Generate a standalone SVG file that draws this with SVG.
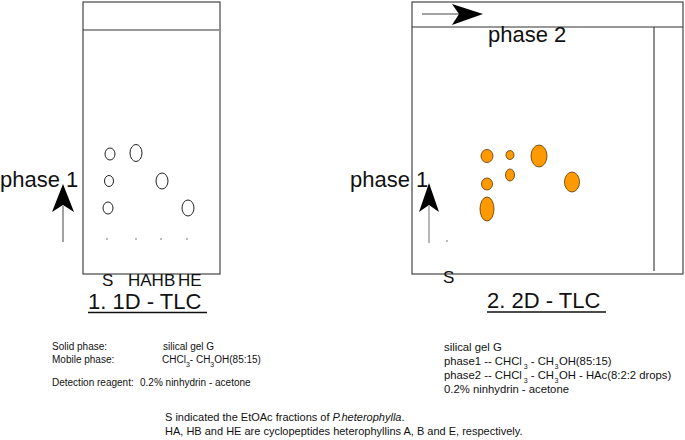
<svg xmlns="http://www.w3.org/2000/svg" width="685" height="440" viewBox="0 0 685 440">
<style>
text{font-family:"Liberation Sans",Arial,sans-serif;fill:#111}
.frame{fill:none;stroke:#333;stroke-width:1.1}
.spot{fill:#fff;stroke:#222;stroke-width:1}
.ospot{fill:#ff9900;stroke:#5a3300;stroke-width:0.8}
.big{font-size:22px}
.lab{font-size:17px}
.title{font-size:22px}
.sl{font-size:10px}
.sr{font-size:11.3px}
.sub{font-size:7px}
.foot{font-size:11px}
.dot{fill:#666}
</style>
<rect width="685" height="440" fill="#fff"/>
<g id="plate-1d">
<rect class="frame" x="83" y="2" width="137" height="272"/>
<line class="frame" x1="83" y1="30" x2="219" y2="30"/>
<ellipse class="spot" cx="110" cy="154" rx="5" ry="6"/>
<ellipse class="spot" cx="109" cy="181" rx="4.5" ry="5.5"/>
<ellipse class="spot" cx="108" cy="208" rx="5" ry="6"/>
<ellipse class="spot" cx="136" cy="153" rx="6" ry="8.5"/>
<ellipse class="spot" cx="162" cy="181" rx="6" ry="8"/>
<ellipse class="spot" cx="188" cy="208" rx="6" ry="8"/>
<circle class="dot" cx="107" cy="239" r="0.8"/>
<circle class="dot" cx="136" cy="239" r="0.8"/>
<circle class="dot" cx="161" cy="239" r="0.8"/>
<circle class="dot" cx="187" cy="239" r="0.8"/>
<text class="lab" x="102" y="285.5">S</text>
<text class="lab" x="128" y="285.5">HAHB</text>
<text class="lab" x="178" y="285.5">HE</text>
<text class="title" x="88" y="309">1. 1D - TLC</text>
<line x1="88" y1="312.5" x2="207" y2="312.5" stroke="#111" stroke-width="1.3"/>
</g>
<g id="plate-2d">
<rect class="frame" x="412" y="2" width="271" height="272"/>
<line class="frame" x1="412" y1="27" x2="683" y2="27"/>
<line class="frame" x1="654" y1="27" x2="654" y2="271"/>
<ellipse class="ospot" cx="487" cy="156" rx="6" ry="6.5"/>
<ellipse class="ospot" cx="510" cy="155" rx="4" ry="4.5"/>
<ellipse class="ospot" cx="539" cy="156" rx="8" ry="11"/>
<ellipse class="ospot" cx="487" cy="184" rx="5.5" ry="6"/>
<ellipse class="ospot" cx="510" cy="175" rx="4.5" ry="6"/>
<ellipse class="ospot" cx="572" cy="182" rx="7.5" ry="10"/>
<ellipse class="ospot" cx="487" cy="209" rx="7" ry="12"/>
<circle class="dot" cx="447" cy="241" r="0.8"/>
<text class="lab" x="443" y="283">S</text>
<text class="title" x="487" y="308">2. 2D - TLC</text>
<line x1="487" y1="312" x2="606" y2="312" stroke="#111" stroke-width="1.3"/>
</g>
<g id="connectors">
<line x1="63" y1="242" x2="63" y2="206" stroke="#444" stroke-width="1"/>
<path d="M63,184 L74,212 L63,205 L52,212 Z" fill="#000"/>
<line x1="429" y1="243" x2="429" y2="206" stroke="#888" stroke-width="1.2"/>
<path d="M429,183 L439,212 L429,205 L419,212 Z" fill="#000"/>
<line x1="422" y1="14" x2="460" y2="14" stroke="#444" stroke-width="1"/>
<path d="M483,14 L452,4 L459,14 L452,25 Z" fill="#000"/>
</g>
<g id="phase-labels">
<text class="big" x="0" y="187">phase 1</text>
<text class="big" x="350" y="187">phase 1</text>
<text class="big" x="488" y="42">phase 2</text>
</g>
<g id="notes-1d">
<text class="sl" x="52" y="350">Solid phase:</text>
<text class="sl" x="163" y="350">silical gel G</text>
<text class="sl" x="52" y="363">Mobile phase:</text>
<text class="sl" x="162" y="363">CHCl<tspan class="sub" dy="4">3</tspan><tspan dy="-4">- CH</tspan><tspan class="sub" dy="4">3</tspan><tspan dy="-4">OH(85:15)</tspan></text>
<text class="sl" x="52" y="386">Detection reagent:</text>
<text class="sl" x="140" y="386">0.2% ninhydrin - acetone</text>
</g>
<g id="notes-2d">
<text class="sr" x="444" y="351">silical gel G</text>
<text class="sr" x="444" y="365">phase1 -- CHCl<tspan class="sub" dx="2" dy="4">3</tspan><tspan dx="3" dy="-4">- CH</tspan><tspan class="sub" dx="0.5" dy="4">3</tspan><tspan dx="0.5" dy="-4">OH(85:15)</tspan></text>
<text class="sr" x="444" y="379">phase2 -- CHCl<tspan class="sub" dx="2" dy="4">3</tspan><tspan dx="3" dy="-4">- CH</tspan><tspan class="sub" dx="0.5" dy="4">3</tspan><tspan dx="0.5" dy="-4">OH - HAc(8:2:2 drops)</tspan></text>
<text class="sr" x="444" y="393">0.2% ninhydrin - acetone</text>
</g>
<g id="footnote">
<text class="foot" x="165" y="421">S indicated the EtOAc fractions of  <tspan font-style="italic">P.heterophylla</tspan>.</text>
<text class="foot" x="165" y="435">HA, HB and HE are cyclopeptides heterophyllins A, B and E, respectively.</text>
</g>
</svg>
